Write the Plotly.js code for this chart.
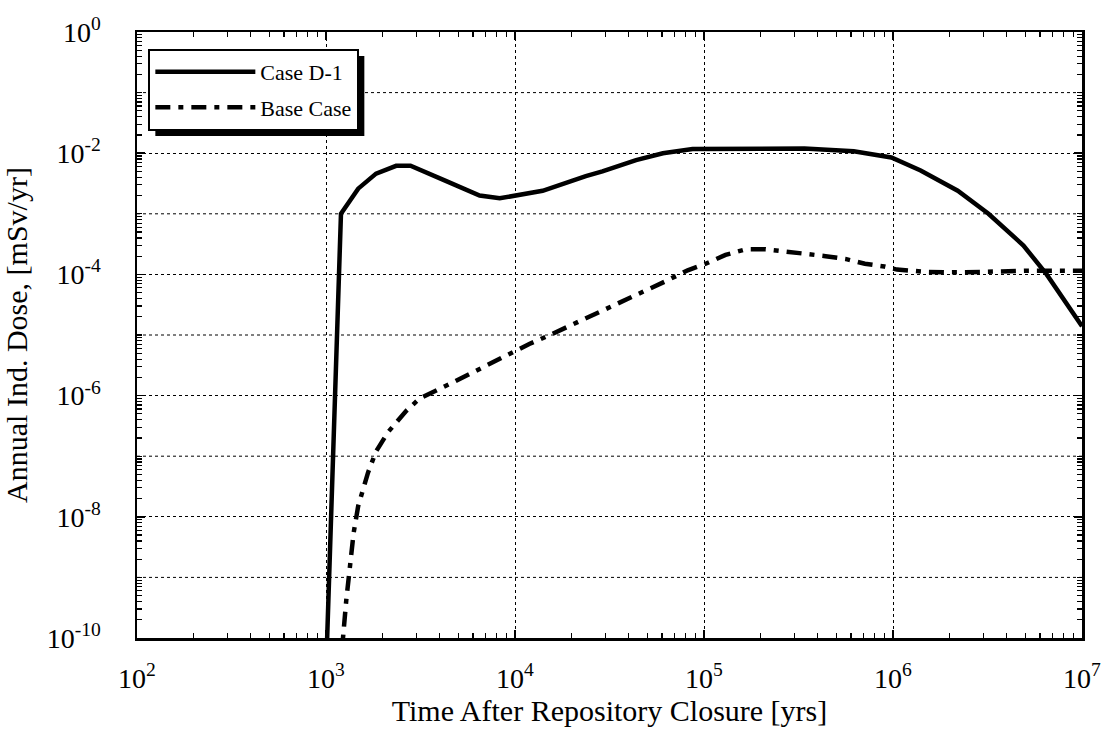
<!DOCTYPE html>
<html><head><meta charset="utf-8">
<script src="https://cdn.plot.ly/plotly-3.0.1.min.js"></script>
<style>html,body{margin:0;padding:0;background:#fff}#chart{width:1112px;height:745px}</style>
</head><body><div id="chart"></div>
<script>
// Case D-1 (solid)
const caseD1Time = [990, 1200, 1480, 1840, 2350, 2800, 4300, 6500, 8300, 10100, 14000, 23700, 29000, 43700, 60600, 87000, 190000, 340000, 620000, 980000, 1400000, 2200000, 3200000, 4900000, 6500000, 10000000];
const caseD1Dose = [1e-11, 1.0e-3, 2.6e-3, 4.6e-3, 6.2e-3, 6.2e-3, 3.5e-3, 2.0e-3, 1.8e-3, 2.0e-3, 2.4e-3, 4.2e-3, 5.0e-3, 7.7e-3, 1.0e-2, 1.17e-2, 1.17e-2, 1.2e-2, 1.08e-2, 8.5e-3, 5.2e-3, 2.4e-3, 1.0e-3, 3.0e-4, 1.0e-4, 1.4e-5];
// Base Case (dash-dot)
const baseTime = [1215, 1230, 1280, 1320, 1400, 1480, 1570, 1670, 1840, 2130, 2660, 3130, 4600, 5800, 7300, 9300, 11900, 15300, 19400, 24200, 30600, 38500, 49300, 62600, 82000, 102000, 130000, 167000, 212000, 270000, 345000, 440000, 560000, 710000, 900000, 1050000, 1500000, 2000000, 3000000, 5000000, 10000000];
const baseDose = [1e-11, 1e-10, 4.2e-10, 1.1e-9, 5.4e-9, 1.5e-8, 2.8e-8, 5.4e-8, 1.2e-7, 2.5e-7, 5.6e-7, 9e-7, 1.6e-6, 2.3e-6, 3.3e-6, 4.9e-6, 7.1e-6, 1e-5, 1.4e-5, 2e-5, 2.7e-5, 3.7e-5, 5.5e-5, 7.7e-5, 1.17e-4, 1.5e-4, 2.1e-4, 2.6e-4, 2.6e-4, 2.4e-4, 2.2e-4, 2.0e-4, 1.8e-4, 1.5e-4, 1.35e-4, 1.2e-4, 1.1e-4, 1.08e-4, 1.1e-4, 1.15e-4, 1.15e-4];

const seriesNames = ['Case D-1', 'Base Case'];
const xTickExp = [2, 3, 4, 5, 6, 7];
const yLabelExp = [-10, -8, -6, -4, -2, 0];
const yOddExp = [-9, -7, -5, -3, -1];
const xTitle = 'Time After Repository Closure [yrs]';
const yTitle = 'Annual Ind. Dose, [mSv/yr]';

const FONT = 'Liberation Serif, Times New Roman, serif';
const powLabel = e => '10<sup>' + e + '</sup>';

function minorVals(e0, e1){ const v=[]; for(let e=e0;e<e1;e++){ for(let m=2;m<=9;m++){ v.push(m*Math.pow(10,e)); } } return v; }

const xTickVals = xTickExp.map(e => Math.pow(10, e));
const xTickText = xTickExp.map(powLabel);
const yTickVals = yLabelExp.map(e => Math.pow(10, e));
const yTickText = yLabelExp.map(powLabel);
const yOddVals = yOddExp.map(e => Math.pow(10, e));

const traces = [
  {x: caseD1Time, y: caseD1Dose, name: seriesNames[0], type: 'scatter', mode: 'lines', legendgroup: 'a',
   line: {color: '#000', width: 4.5}},
  {x: baseTime, y: baseDose, name: seriesNames[1], type: 'scatter', mode: 'lines', legendgroup: 'b',
   line: {color: '#000', width: 4.5, dash: '15px,8px,5px,8px'}}
];

const axisCommon = {
  type: 'log', showline: true, linecolor: '#000', linewidth: 2.5, mirror: 'allticks',
  ticks: 'inside', ticklen: 8, tickwidth: 1.5, tickcolor: '#000',
  showgrid: true, gridcolor: '#000', gridwidth: 1, griddash: 'dot',
  zeroline: false, tickfont: {family: FONT, size: 28, color: '#000'}, tickmode: 'array'
};

const gridShapes = yOddVals.map(v => ({type: 'line', xref: 'paper', yref: 'y', x0: 0, x1: 1, y0: v, y1: v,
  line: {color: '#000', width: 1, dash: 'dot'}, layer: 'below'}));

const layout = {
  width: 1112, height: 745,
  margin: {l: 137, r: 30, t: 32, b: 107},
  paper_bgcolor: '#fff', plot_bgcolor: '#fff',
  font: {family: FONT, color: '#000'},
  xaxis: Object.assign({}, axisCommon, {
    range: [2, 7], tickvals: xTickVals, ticktext: xTickText, ticklabelstandoff: 14,
    minor: {tickmode: 'array', tickvals: minorVals(2, 7), ticks: 'inside', ticklen: 5, tickwidth: 1.2, tickcolor: '#000', showgrid: false},
    title: {text: xTitle, font: {family: FONT, size: 30, color: '#000'}, standoff: 6}
  }),
  yaxis: Object.assign({}, axisCommon, {
    range: [-10, 0], tickvals: yTickVals, ticktext: yTickText, ticklabelstandoff: 28,
    minor: {tickmode: 'array', tickvals: minorVals(-10, 0).concat(yOddVals), ticks: 'inside', ticklen: 5, tickwidth: 1.2, tickcolor: '#000', showgrid: false},
    title: {text: yTitle, font: {family: FONT, size: 30, color: '#000'}, standoff: 14}
  }),
  shapes: gridShapes,
  showlegend: true,
  legend: {x: 0.012, y: 0.972, xanchor: 'left', yanchor: 'top', bgcolor: '#fff', bordercolor: '#000', borderwidth: 2,
    font: {family: FONT, size: 22, color: '#000'}, itemwidth: 100, tracegroupgap: 4, traceorder: 'grouped'}
};

function tidyTspans(){
  gd.querySelectorAll('tspan').forEach(t => {
    if (t.textContent.replace(/\u200b/g, '') === '') { t.remove(); return; }
    const fs = t.style.fontSize;
    if (fs && fs.indexOf('%') >= 0) {
      const parent = t.closest('text');
      const base = parseFloat(window.getComputedStyle(parent).fontSize) || 28;
      t.style.fontSize = (base * parseFloat(fs) / 100).toFixed(1) + 'px';
    }
  });
}

const gd = document.getElementById('chart');
Plotly.newPlot(gd, traces, layout, {staticPlot: true, displayModeBar: false}).then(function(){
  const bg = gd.querySelector('.legend .bg');
  if (!bg) return;
  const r = bg.getBoundingClientRect();
  const g = gd.getBoundingClientRect();
  const s = gd._fullLayout._size;
  const px2x = px => (px - g.left - s.l) / s.w;
  const py2y = py => 1 - (py - g.top - s.t) / s.h;
  const off = 6;
  return Plotly.relayout(gd, {shapes: gridShapes.concat([{type: 'rect', xref: 'paper', yref: 'paper',
    x0: px2x(r.left + off), x1: px2x(r.right + off), y0: py2y(r.bottom + off), y1: py2y(r.top + off),
    fillcolor: '#000', line: {width: 0}, layer: 'above'}])});
}).then(tidyTspans);
</script>
</body></html>
